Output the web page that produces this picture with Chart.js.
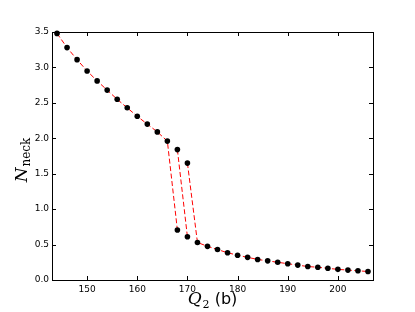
<!DOCTYPE html>
<html>
<head>
  <title>N_neck vs Q2</title>
  <style>
    body { margin: 0; background: #fff; }
  </style>
</head>
<body>
<canvas id="neckChart" width="415" height="312"></canvas>

<script src="https://cdn.jsdelivr.net/npm/chart.js"></script>
<script>
  // Q2 (b) values; 168 and 170 appear twice (two branches), null breaks the dashed line
  const q2 = [144, 146, 148, 150, 152, 154, 156, 158, 160, 162, 164, 166,
              168, 168, 168, 170, 170, 170,
              172, 174, 176, 178, 180, 182, 184, 186, 188, 190,
              192, 194, 196, 198, 200, 202, 204, 206];
  const nNeck = [3.48, 3.28, 3.11, 2.95, 2.81, 2.68, 2.55, 2.43, 2.31, 2.20, 2.09, 1.96,
                 0.705, null, 1.84, 0.61, null, 1.65,
                 0.53, 0.475, 0.43, 0.385, 0.35, 0.32, 0.29, 0.27, 0.25, 0.23,
                 0.21, 0.19, 0.18, 0.165, 0.15, 0.14, 0.13, 0.12];
  const xTicks = [150, 160, 170, 180, 190, 200];
  const yTicks = [0, 0.5, 1.0, 1.5, 2.0, 2.5, 3.0, 3.5];

  const points = q2.map((q, i) => ({ x: q, y: nNeck[i] }));

  // box around the plot, inward ticks, and the two axis titles
  const framePlugin = {
    id: 'frame',
    afterDraw(chart) {
      const c = chart.ctx;
      const a = chart.chartArea;
      const xs = chart.scales.x;
      const ys = chart.scales.y;
      c.save();
      c.strokeStyle = '#000';
      c.lineWidth = 1;
      c.strokeRect(Math.round(a.left) + 0.5, Math.round(a.top) + 0.5,
                   Math.round(a.right - a.left), Math.round(a.bottom - a.top));
      c.beginPath();
      xTicks.forEach(v => {
        const px = Math.round(xs.getPixelForValue(v)) + 0.5;
        c.moveTo(px, a.bottom); c.lineTo(px, a.bottom - 4);
        c.moveTo(px, a.top); c.lineTo(px, a.top + 4);
      });
      yTicks.forEach(v => {
        const py = Math.round(ys.getPixelForValue(v)) + 0.5;
        c.moveTo(a.left, py); c.lineTo(a.left + 4, py);
        c.moveTo(a.right, py); c.lineTo(a.right - 4, py);
      });
      c.stroke();

      // x title: Q_2 (b)
      c.fillStyle = '#000';
      c.textBaseline = 'alphabetic';
      c.textAlign = 'left';
      const qFont = 'italic 17px "DejaVu Serif"';
      const subFont = '11px "DejaVu Serif"';
      const bFont = '16px "DejaVu Sans"';
      c.font = qFont; const wQ = c.measureText('Q').width;
      c.font = subFont; const w2 = c.measureText('2').width;
      c.font = bFont; const wB = c.measureText(' (b)').width;
      let x0 = (a.left + a.right) / 2 - (wQ + w2 + 1 + wB) / 2;
      const yb = 304;
      c.font = qFont; c.fillText('Q', x0, yb);
      c.font = subFont; c.fillText('2', x0 + wQ + 1, yb + 4);
      c.font = bFont; c.fillText(' (b)', x0 + wQ + w2 + 1, yb);

      // y title: N_neck (rotated)
      c.translate(27, 160);
      c.rotate(-Math.PI / 2);
      const nFont = 'italic 17px "DejaVu Serif"';
      const neckFont = '12px "DejaVu Serif"';
      c.font = nFont; const wN = c.measureText('N').width;
      c.font = neckFont; const wNeck = c.measureText('neck').width;
      let y0 = -(wN + wNeck + 1) / 2;
      c.font = nFont; c.fillText('N', y0, 0);
      c.font = neckFont; c.fillText('neck', y0 + wN + 1, 3);
      c.restore();
    }
  };

  new Chart(document.getElementById('neckChart'), {
    type: 'line',
    data: {
      datasets: [{
        data: points,
        borderColor: 'red',
        borderWidth: 1,
        borderDash: [5, 2.5],
        tension: 0,
        spanGaps: false,
        pointRadius: 2.8,
        pointBackgroundColor: '#000',
        pointBorderColor: '#000',
        pointBorderWidth: 0,
        clip: false
      }]
    },
    options: {
      responsive: false,
      animation: false,
      layout: { padding: { top: 32, right: 42, left: 0, bottom: 0 } },
      plugins: {
        legend: { display: false },
        tooltip: { enabled: false }
      },
      scales: {
        x: {
          type: 'linear',
          min: 143,
          max: 207,
          grid: { display: false, drawTicks: false },
          border: { display: false },
          ticks: {
            color: '#000',
            font: { family: 'DejaVu Sans', size: 9 },
            padding: 4,
            maxRotation: 0
          },
          afterBuildTicks: axis => { axis.ticks = xTicks.map(v => ({ value: v })); },
          afterFit: s => { s.height = 32; }
        },
        y: {
          min: 0,
          max: 3.5,
          grid: { display: false, drawTicks: false },
          border: { display: false },
          ticks: {
            color: '#000',
            font: { family: 'DejaVu Sans', size: 9 },
            padding: 3,
            callback: v => v.toFixed(1)
          },
          afterBuildTicks: axis => { axis.ticks = yTicks.map(v => ({ value: v })); },
          afterFit: s => { s.width = 52; }
        }
      }
    },
    plugins: [framePlugin]
  });
</script>
</body>
</html>
